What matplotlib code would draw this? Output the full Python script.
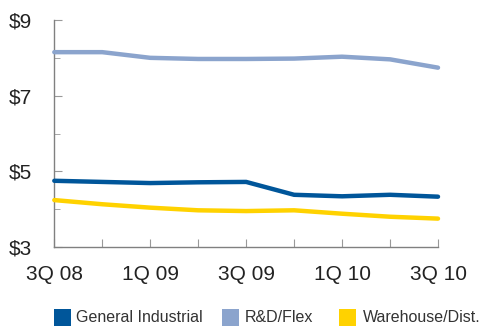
import matplotlib
matplotlib.use("Agg")
import matplotlib.pyplot as plt
from matplotlib.patches import Rectangle
from matplotlib.ticker import MultipleLocator

quarters = ["3Q 08", "4Q 08", "1Q 09", "2Q 09", "3Q 09", "4Q 09", "1Q 10", "2Q 10", "3Q 10"]
general_industrial = [4.75, 4.72, 4.69, 4.71, 4.72, 4.38, 4.34, 4.38, 4.33]
rd_flex = [8.15, 8.15, 8.00, 7.97, 7.97, 7.98, 8.03, 7.96, 7.74]
warehouse = [4.24, 4.13, 4.04, 3.97, 3.95, 3.97, 3.88, 3.80, 3.75]
series_names = ["General Industrial", "R&D/Flex", "Warehouse/Dist."]
colors = ["#00569A", "#8BA4CD", "#FFD200"]
y_labels = ["$3", "$5", "$7", "$9"]

plt.rcParams['font.family'] = ['Liberation Sans', 'DejaVu Sans']

W, H = 487, 327
fig = plt.figure(figsize=(W/100, H/100), dpi=100)
ax = fig.add_axes([54.3/W, 1-247/H, (438-54.3)/W, (247-20)/H])

x = list(range(len(quarters)))
for vals, c in zip([general_industrial, rd_flex, warehouse], colors):
    ax.plot(x, vals, color=c, lw=3.2, solid_capstyle='round', zorder=3, clip_on=False)

ax.set_xlim(0, len(quarters) - 1)
ax.set_ylim(3, 9)
ax.set_xticks(x)
ax.set_xticklabels([q if i % 2 == 0 else "" for i, q in enumerate(quarters)])
ax.set_yticks([3, 5, 7, 9])
ax.set_yticklabels(y_labels)
ax.yaxis.set_minor_locator(MultipleLocator(1))
for s in ['top', 'right']:
    ax.spines[s].set_visible(False)
for s in ['left', 'bottom']:
    ax.spines[s].set_color('#808080')
    ax.spines[s].set_linewidth(1.0)
ax.tick_params(axis='both', which='both', direction='in', color='#999999',
               labelsize=15, labelcolor='#222222')
ax.tick_params(axis='y', which='major', length=6, pad=16)
ax.tick_params(axis='y', which='minor', length=4)
ax.tick_params(axis='x', which='major', length=6, pad=13)

# legend drawn manually in figure pixel coordinates
sq_x = [54, 222, 339]
txt_x = [76, 245, 363]
for sx, tx, c, name in zip(sq_x, txt_x, colors, series_names):
    fig.patches.append(Rectangle((sx/W, 1-326/H), 17/W, 17/H, transform=fig.transFigure,
                                 facecolor=c, edgecolor='none'))
    fig.text(tx/W, 1-317.5/H, name, ha='left', va='center', fontsize=11.5,
             color='#333333')

fig.savefig("out.png", dpi=100)
